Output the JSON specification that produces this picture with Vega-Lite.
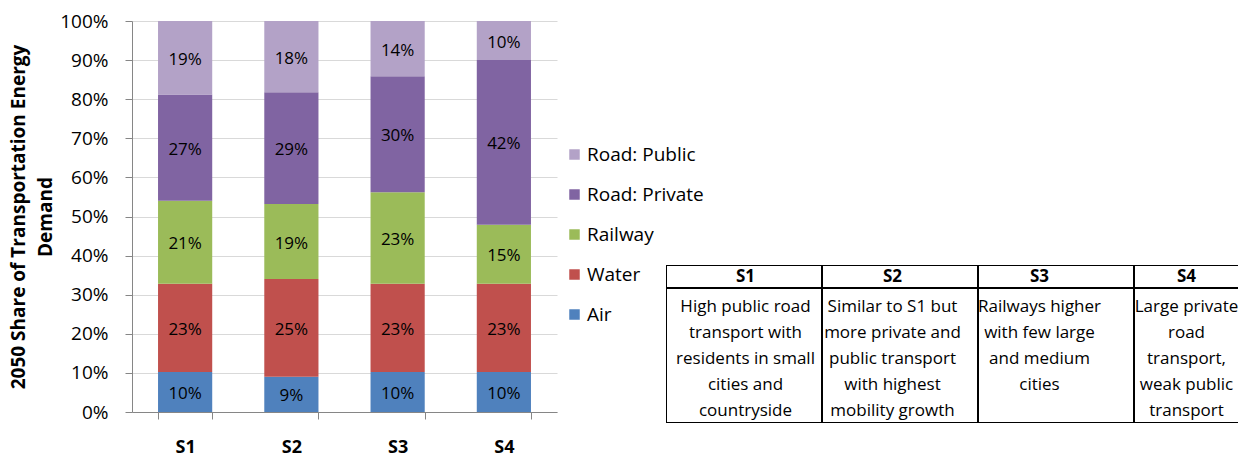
{
  "$schema": "https://vega.github.io/schema/vega-lite/v6.json",
  "padding": {"left": 9, "top": 12, "right": 0, "bottom": 0},
  "config": {
    "font": "Open Sans",
    "view": {"stroke": null},
    "axis": {"labelColor": "black", "titleColor": "black"},
    "text": {"color": "black"}
  },
  "datasets": {
    "shares": [
      {"s": "S1", "m": "Air", "k": 1, "v": 0.102},
      {"s": "S1", "m": "Water", "k": 2, "v": 0.226},
      {"s": "S1", "m": "Railway", "k": 3, "v": 0.212},
      {"s": "S1", "m": "Road: Private", "k": 4, "v": 0.272},
      {"s": "S1", "m": "Road: Public", "k": 5, "v": 0.188},
      {"s": "S2", "m": "Air", "k": 1, "v": 0.090},
      {"s": "S2", "m": "Water", "k": 2, "v": 0.250},
      {"s": "S2", "m": "Railway", "k": 3, "v": 0.192},
      {"s": "S2", "m": "Road: Private", "k": 4, "v": 0.286},
      {"s": "S2", "m": "Road: Public", "k": 5, "v": 0.182},
      {"s": "S3", "m": "Air", "k": 1, "v": 0.102},
      {"s": "S3", "m": "Water", "k": 2, "v": 0.226},
      {"s": "S3", "m": "Railway", "k": 3, "v": 0.234},
      {"s": "S3", "m": "Road: Private", "k": 4, "v": 0.297},
      {"s": "S3", "m": "Road: Public", "k": 5, "v": 0.141},
      {"s": "S4", "m": "Air", "k": 1, "v": 0.102},
      {"s": "S4", "m": "Water", "k": 2, "v": 0.226},
      {"s": "S4", "m": "Railway", "k": 3, "v": 0.151},
      {"s": "S4", "m": "Road: Private", "k": 4, "v": 0.421},
      {"s": "S4", "m": "Road: Public", "k": 5, "v": 0.100}
    ],
    "table": [
      {"s": "S1", "t": "High public road\ntransport with\nresidents in small\ncities and\ncountryside"},
      {"s": "S2", "t": "Similar to S1 but\nmore private and\npublic transport\nwith highest\nmobility growth"},
      {"s": "S3", "t": "Railways higher\nwith few large\nand medium\ncities"},
      {"s": "S4", "t": "Large private\nroad\ntransport,\nweak public\ntransport"}
    ]
  },
  "hconcat": [
    {
      "width": 425,
      "height": 391,
      "data": {"name": "shares"},
      "encoding": {
        "x": {
          "field": "s",
          "type": "nominal",
          "scale": {"paddingInner": 0.49, "paddingOuter": 0.245},
          "axis": {
            "title": null,
            "labelAngle": 0,
            "labelFontSize": 18,
            "labelFontWeight": "bold",
            "labelPadding": 19,
            "tickBand": "extent",
            "tickSize": 7,
            "tickColor": "#868686",
            "domainColor": "#868686",
            "grid": false
          }
        },
        "y": {
          "field": "v",
          "type": "quantitative",
          "stack": "normalize",
          "scale": {"domain": [0, 1], "nice": false},
          "axis": {
            "title": ["2050 Share of Transportation Energy", "Demand"],
            "titleFontSize": 19,
            "titleFontWeight": "bold",
            "titleLineHeight": 27,
            "titlePadding": 4,
            "values": [0, 0.1, 0.2, 0.3, 0.4, 0.5, 0.6, 0.7, 0.8, 0.9, 1],
            "format": ".0%",
            "labelFontSize": 19,
            "labelPadding": 17,
            "labelFlush": false,
            "tickSize": 7,
            "tickColor": "#868686",
            "domainColor": "#868686",
            "grid": true,
            "gridColor": "#d9d9d9"
          }
        },
        "order": {"field": "k", "type": "quantitative"}
      },
      "layer": [
        {
          "mark": {"type": "bar"},
          "encoding": {
            "color": {
              "field": "m",
              "type": "nominal",
              "scale": {
                "domain": ["Road: Public", "Road: Private", "Railway", "Water", "Air"],
                "range": ["#B3A2C7", "#8064A2", "#9BBB59", "#C0504D", "#4F81BD"]
              },
              "legend": {
                "title": null,
                "orient": "none",
                "legendX": 433,
                "legendY": 124,
                "padding": 0,
                "symbolType": "square",
                "symbolSize": 110,
                "symbolStrokeWidth": 0,
                "labelFontSize": 19,
                "labelOffset": 3,
                "labelLimit": 300,
                "rowPadding": 20
              }
            }
          }
        },
        {
          "mark": {"type": "text", "fontSize": 17, "dy": 2},
          "encoding": {
            "y": {"field": "v", "type": "quantitative", "stack": "normalize", "bandPosition": 0.5},
            "detail": {"field": "m", "type": "nominal"},
            "text": {"field": "v", "type": "quantitative", "format": ".0%"}
          }
        }
      ]
    },
    {
      "spacing": 0,
      "bounds": "flush",
      "vconcat": [
        {
          "width": 572,
          "height": 244,
          "data": {"values": [{"a": 1}]},
          "mark": {"type": "point", "opacity": 0},
          "encoding": {}
        },
        {
          "width": 572,
          "height": 23,
          "data": {"name": "table"},
          "layer": [
            {
              "mark": {"type": "rect", "fill": "white", "stroke": "black", "strokeWidth": 2, "clip": true},
              "encoding": {
                "x": {"field": "s", "type": "nominal", "axis": null, "scale": {"paddingInner": 0, "paddingOuter": 0, "rangeMax": 624}}
              }
            },
            {
              "mark": {"type": "text", "fontSize": 17, "fontWeight": "bold", "clip": true},
              "encoding": {
                "x": {"field": "s", "type": "nominal", "axis": null, "scale": {"paddingInner": 0, "paddingOuter": 0, "rangeMin": 6, "rangeMax": 594}},
                "text": {"field": "s", "type": "nominal"}
              }
            }
          ],
          "resolve": {"scale": {"x": "independent"}}
        },
        {
          "width": 572,
          "height": 135,
          "data": {"name": "table"},
          "layer": [
            {
              "mark": {"type": "rect", "fill": "white", "stroke": "black", "strokeWidth": 2, "clip": true},
              "encoding": {
                "x": {"field": "s", "type": "nominal", "axis": null, "scale": {"paddingInner": 0, "paddingOuter": 0, "rangeMax": 624}}
              }
            },
            {
              "mark": {"type": "text", "fontSize": 17, "lineBreak": "\n", "lineHeight": 26, "baseline": "middle", "dy": -49, "clip": true},
              "encoding": {
                "x": {"field": "s", "type": "nominal", "axis": null, "scale": {"paddingInner": 0, "paddingOuter": 0, "rangeMin": 6, "rangeMax": 594}},
                "text": {"field": "t", "type": "nominal"}
              }
            }
          ],
          "resolve": {"scale": {"x": "independent"}}
        }
      ]
    }
  ],
  "spacing": 109,
  "bounds": "flush"
}
